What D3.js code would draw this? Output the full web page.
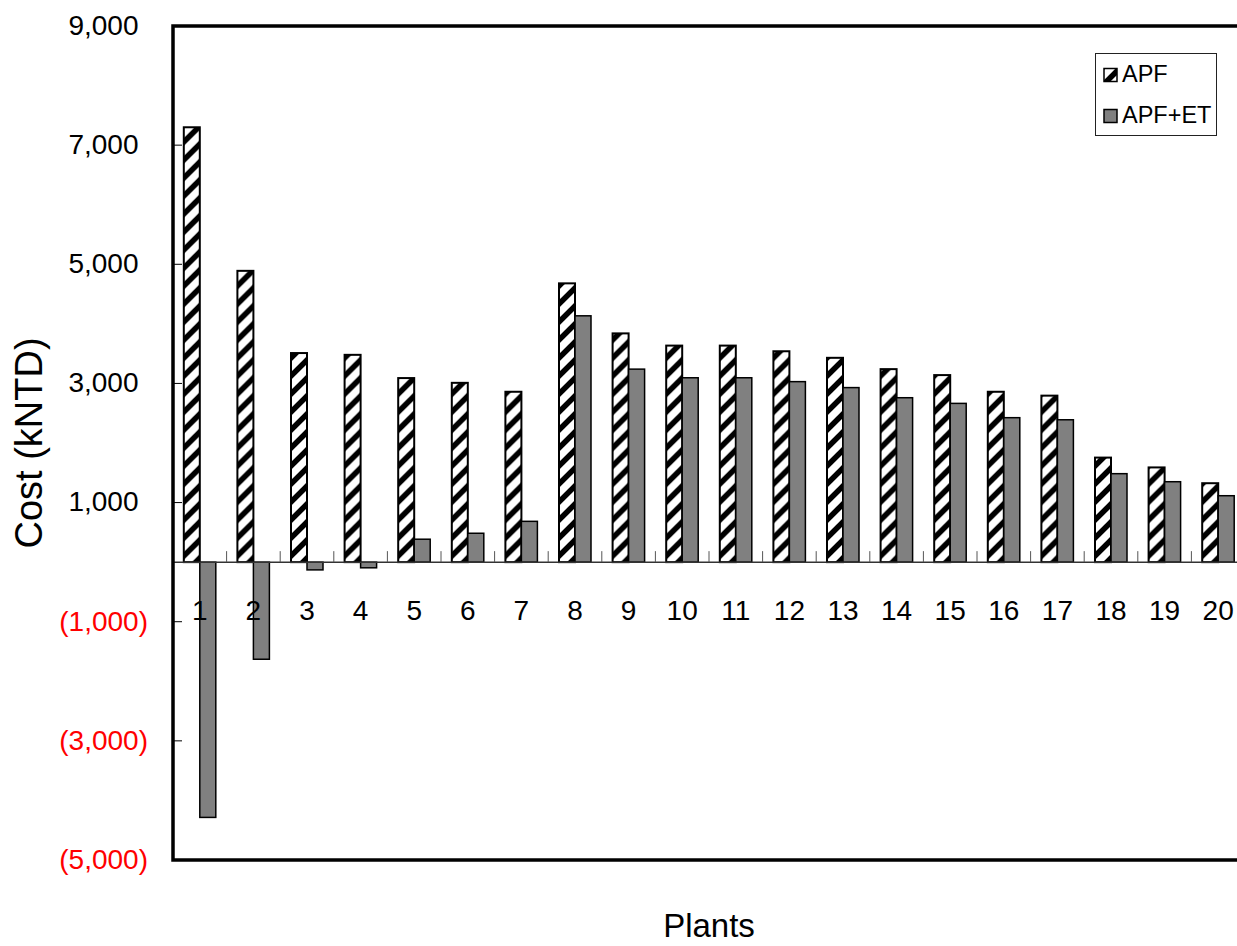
<!DOCTYPE html>
<html><head><meta charset="utf-8">
<script src="https://cdn.jsdelivr.net/npm/d3@7"></script>
<style>body{margin:0;background:#fff;overflow:hidden} text{font-family:"Liberation Sans",Arial,sans-serif}</style>
</head><body><svg id="c" width="1237" height="946"></svg>
<script>
const categories = ["1","2","3","4","5","6","7","8","9","10","11","12","13","14","15","16","17","18","19","20"];
const seriesNames = ["APF","APF+ET"];
const apf   = [7300,4890,3510,3480,3090,3010,2860,4680,3840,3635,3635,3540,3430,3240,3140,2860,2795,1755,1590,1325];
const apfEt = [-4285,-1630,-130,-95,385,485,685,4135,3240,3095,3095,3030,2930,2760,2665,2425,2390,1485,1350,1115];
const yTickValues = [-5000,-3000,-1000,1000,3000,5000,7000,9000];
const xTitle = "Plants";
const yTitle = "Cost (kNTD)";

const svg = d3.select("#c");
const L = 173, R = 1245, T = 26, B = 860;

const defs = svg.append("defs");
const pat = defs.append("pattern").attr("id","hatch").attr("patternUnits","userSpaceOnUse")
  .attr("width",18).attr("height",18);
pat.append("rect").attr("width",18).attr("height",18).attr("fill","#fff");
pat.append("path").attr("d","M-4.5,4.5 L4.5,-4.5 M0,18 L18,0 M13.5,22.5 L22.5,13.5")
  .attr("stroke","#000").attr("stroke-width",5.5);

const x0 = d3.scaleBand().domain(categories).range([L, R]).padding(0);
const y = d3.scaleLinear().domain([-5000, 9000]).range([B, T]);
const barW = 16;
const x1 = d3.scaleBand().domain(seriesNames).range([-barW, barW]).padding(0);

const data = categories.map((c,i)=>({c, vals:[{s:"APF",v:apf[i]},{s:"APF+ET",v:apfEt[i]}]}));

const g = svg.append("g");
const groups = g.selectAll("g.cat").data(data).join("g")
  .attr("transform", d=>`translate(${x0(d.c)+x0.bandwidth()/2},0)`);
groups.selectAll("rect").data(d=>d.vals).join("rect")
  .attr("x", d=>x1(d.s))
  .attr("width", x1.bandwidth())
  .attr("y", d=>Math.min(y(d.v), y(0)))
  .attr("height", d=>Math.abs(y(d.v)-y(0)))
  .attr("fill", d=>d.s==="APF" ? "url(#hatch)" : "#808080")
  .attr("stroke","#000")
  .attr("stroke-width", d=>d.s==="APF" ? 2 : 1.5);

// zero axis line
g.append("line").attr("x1",L).attr("x2",R).attr("y1",y(0)).attr("y2",y(0))
  .attr("stroke","#333").attr("stroke-width",1.5);
// category boundary ticks (upward)
const bounds = categories.slice(1).map(c=>x0(c));
g.selectAll("line.xt").data(bounds).join("line")
  .attr("x1",d=>d).attr("x2",d=>d).attr("y1",y(0)).attr("y2",y(0)-11)
  .attr("stroke","#555").attr("stroke-width",1);
// category labels
g.selectAll("text.cl").data(categories).join("text")
  .attr("x", d=>x0(d)+x0.bandwidth()/2).attr("y", 620)
  .attr("text-anchor","middle").attr("font-size",28).attr("fill","#000").text(d=>d);

// y ticks (inside)
const fmt = d3.format(",");
g.selectAll("line.yt").data(yTickValues).join("line")
  .attr("x1",L).attr("x2",L+9).attr("y1",d=>y(d)).attr("y2",d=>y(d))
  .attr("stroke","#000").attr("stroke-width",1);
g.selectAll("text.yl").data(yTickValues).join("text")
  .attr("x", d=> d<0 ? 148 : 138.5)
  .attr("y", d=>y(d)+1.5)
  .attr("dominant-baseline","middle")
  .attr("text-anchor","end").attr("font-size",28)
  .attr("fill", d=> d<0 ? "#ff0000" : "#000")
  .text(d=> d<0 ? `(${fmt(-d)})` : fmt(d));

// frame
g.append("rect").attr("x",L).attr("y",T).attr("width",R-L).attr("height",B-T)
  .attr("fill","none").attr("stroke","#000").attr("stroke-width",3.5);

// titles
svg.append("text").attr("x",709).attr("y",937).attr("text-anchor","middle")
  .attr("font-size",33).attr("fill","#000").text(xTitle);
svg.append("text").attr("transform","translate(42,443) rotate(-90)").attr("text-anchor","middle")
  .attr("font-size",38).attr("fill","#000").text(yTitle);

// legend
const lg = svg.append("g");
lg.append("rect").attr("x",1095.5).attr("y",53.5).attr("width",121).attr("height",82)
  .attr("fill","#fff").attr("stroke","#222").attr("stroke-width",1);
const items = lg.selectAll("g.li").data(seriesNames).join("g")
  .attr("transform",(d,i)=>`translate(0,${i*41})`);
items.append("rect").attr("x",1104).attr("y",68.5).attr("width",13).attr("height",13)
  .attr("fill",d=>d==="APF"?"url(#hatch)":"#808080").attr("stroke","#000").attr("stroke-width",1.5);
items.append("text").attr("x",1122).attr("y",81.5).attr("font-size",23.5).attr("fill","#000").text(d=>d);
</script></body></html>
